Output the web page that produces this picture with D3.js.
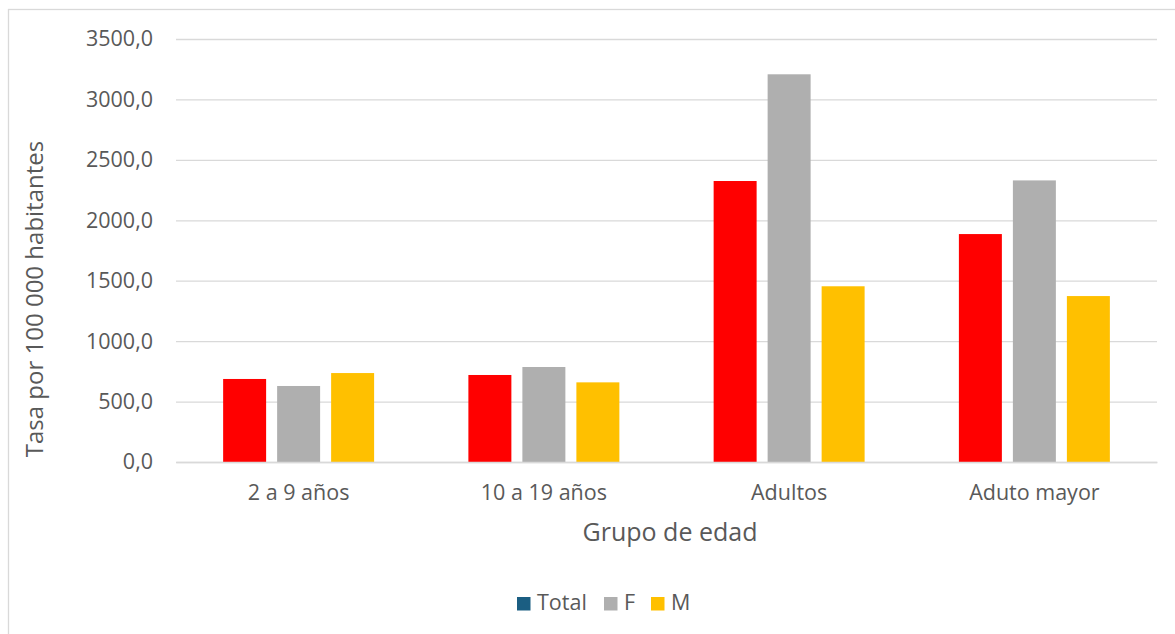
<!DOCTYPE html>
<html><head><meta charset="utf-8">
<script src="https://cdn.jsdelivr.net/npm/d3@7"></script>
<style>body{margin:0;background:#fff}svg{display:block}text{font-family:"Open Sans",Roboto,sans-serif;fill:#595959}</style>
</head><body><svg id="c" width="1175" height="634"></svg>
<script>
const categories = ["2 a 9 años", "10 a 19 años", "Adultos", "Aduto mayor"];
const seriesNames = ["Total", "F", "M"];
const totalValues = [687, 720, 2325, 1886];
const fValues = [629, 786, 3208, 2330];
const mValues = [736, 659, 1454, 1373];
const yTicks = [0, 500, 1000, 1500, 2000, 2500, 3000, 3500];
const barColors = ["#FF0000", "#AFAFAF", "#FFC000"];
const legendColors = ["#1B5E82", "#AFAFAF", "#FFC000"];

const svg = d3.select("#c");
svg.append("rect").attr("x", 8.5).attr("y", 9.5).attr("width", 1200).attr("height", 700)
  .attr("fill", "#fff").attr("stroke", "#d9d9d9").attr("stroke-width", 1.3);

const pLeft = 176, pRight = 1157, pTop = 39, pBottom = 462;
const x = d3.scaleBand().domain(categories).range([pLeft, pRight]).paddingInner(0).paddingOuter(0);
const y = d3.scaleLinear().domain([0, 3500]).range([pBottom, pTop]);
const x1 = d3.scaleBand().domain(seriesNames).range([0, x.bandwidth()]).paddingInner(0.204).paddingOuter(0.873);

const fmt = v => d3.format(".1f")(v).replace(".", ",");
const yAxis = d3.axisLeft(y).tickValues(yTicks).tickSize(-(pRight - pLeft)).tickFormat(fmt).tickPadding(23);
const gy = svg.append("g").attr("transform", `translate(${pLeft},0)`).call(yAxis);
gy.select(".domain").remove();
gy.selectAll(".tick line").attr("stroke", "#d9d9d9").attr("stroke-width", 1.3);
gy.selectAll(".tick text").style("font-size", "21.5px").attr("fill", "#595959");

const data = categories.map((c, i) => ({c, vals: [totalValues[i], fValues[i], mValues[i]]}));
const g = svg.append("g");
data.forEach(d => {
  d.vals.forEach((v, j) => {
    g.append("rect").attr("x", x(d.c) + x1(seriesNames[j])).attr("width", x1.bandwidth())
      .attr("y", y(v)).attr("height", y(0) - y(v)).attr("fill", barColors[j]);
  });
});

const xAxis = d3.axisBottom(x).tickSize(0).tickPadding(23);
const gx = svg.append("g").attr("transform", `translate(0,${pBottom})`).call(xAxis);
gx.select(".domain").attr("stroke", "#d9d9d9").attr("stroke-width", 1.3);
gx.selectAll(".tick text").style("font-size", "21.5px").attr("fill", "#595959");

svg.append("text").attr("x", 670).attr("y", 541).attr("text-anchor", "middle")
  .style("font-size", "25px").text("Grupo de edad");
svg.append("text").attr("transform", `translate(43,299) rotate(-90)`)
  .attr("text-anchor", "middle").style("font-size", "24px").text("Tasa por 100 000 habitantes");

const legendX = [517, 604, 651];
seriesNames.forEach((s, i) => {
  svg.append("rect").attr("x", legendX[i]).attr("y", 597).attr("width", 13.5).attr("height", 13.5).attr("fill", legendColors[i]);
  svg.append("text").attr("x", legendX[i] + 20).attr("y", 610).style("font-size", "21.5px").text(s);
});
</script></body></html>
